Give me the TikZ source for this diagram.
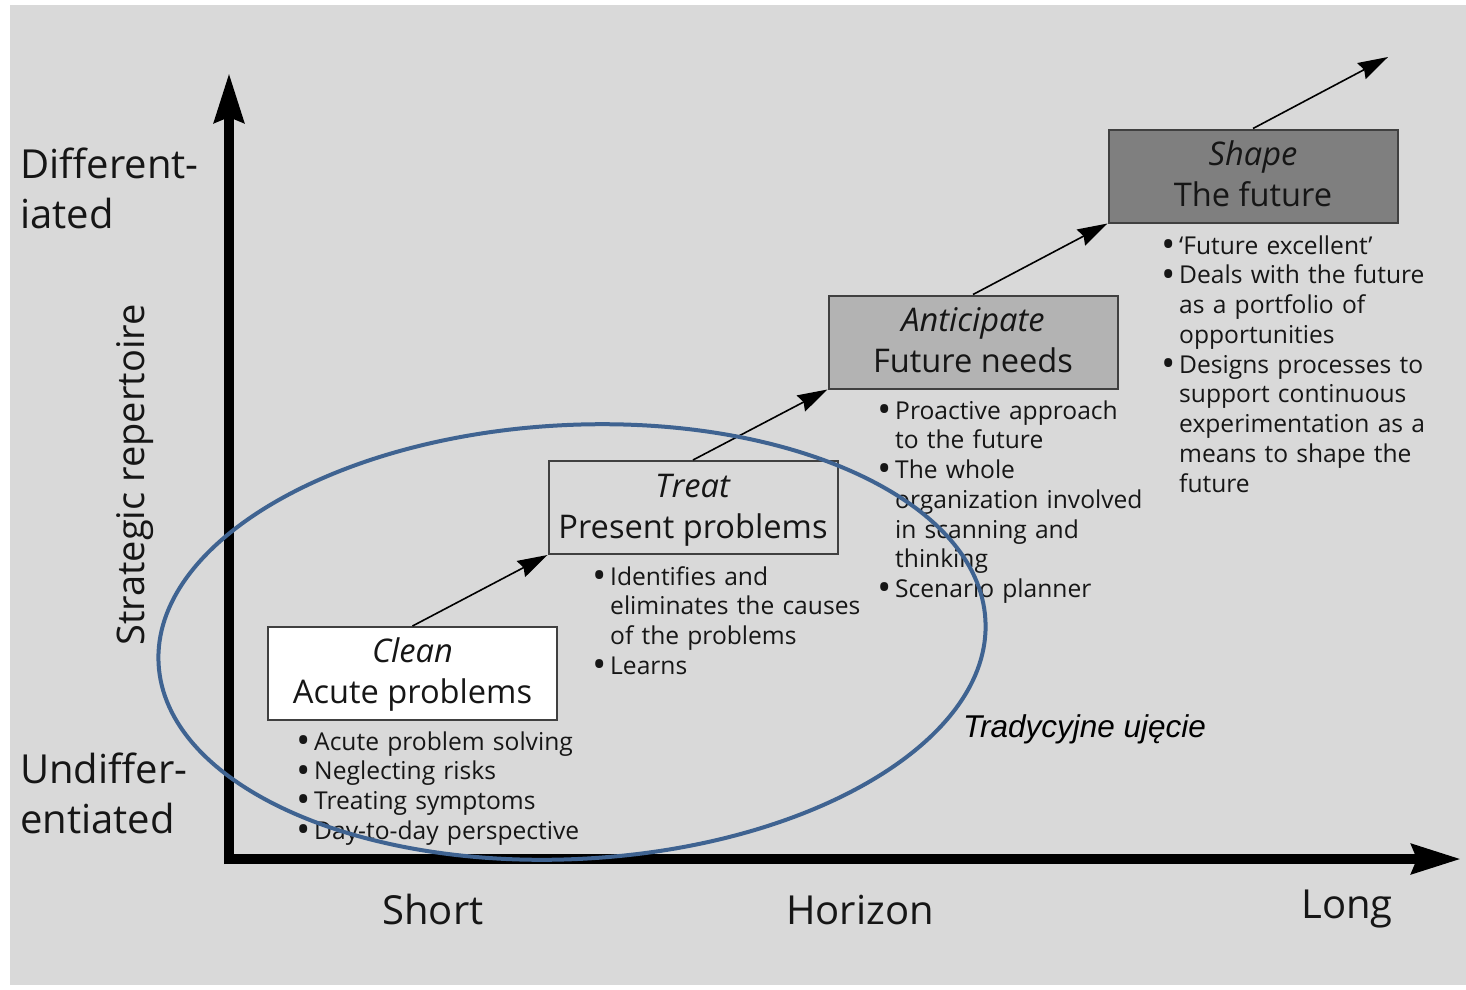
\documentclass[tikz,border=0pt]{standalone}
\usepackage{fontspec}
\setmainfont{Open Sans}
\newfontfamily\arialfont{Liberation Sans}
\usetikzlibrary{arrows.meta}
\definecolor{bg}{HTML}{D9D9D9}
\definecolor{boxline}{HTML}{404040}
\definecolor{midgray}{HTML}{B3B3B3}
\definecolor{darkgray}{HTML}{7F7F7F}
\definecolor{ellblue}{HTML}{3F6391}
\definecolor{txt}{HTML}{161616}
\newcommand{\blt}{\leavevmode\llap{\raisebox{-0.14em}{\scalebox{1.5}{\textbullet}}\hspace{4pt}}}
\tikzset{
  axis/.style={line width=10pt, -{Stealth[length=49pt,width=29pt,inset=5pt]}},
  stagebox/.style={draw=boxline, line width=2pt, minimum width=289pt, minimum height=93pt,
    inner sep=0pt, align=center, text=txt, font=\fontsize{32.6}{41}\selectfont},
  stagetext/.style={inner sep=0pt, align=center, text=txt, font=\fontsize{32.6}{41}\selectfont},
  stagearrow/.style={line width=1.6pt, -{Stealth[length=30pt,width=18pt,inset=3pt]}},
  bullets/.style={anchor=base west, inner sep=0pt, text width=320pt, align=left, text=txt,
    font=\fontsize{24.6}{29.75}\selectfont},
  axislabel/.style={inner sep=0pt, text=txt, font=\fontsize{40}{50}\selectfont},
}
\begin{document}
\begin{tikzpicture}[x=1pt,y=-1pt]
\useasboundingbox (0,0) rectangle (1466,989);
\fill[bg] (10,5) rectangle (1466,985);

% axes
\coordinate (origin) at (229,859);
\coordinate (ytip) at (229,73);
\coordinate (xtip) at (1461,859);
\draw[axis] (229,864) -- (ytip);
\draw[axis] (224,859) -- (xtip);

% axis labels
\node[axislabel, anchor=base west, text width=300pt, align=left] (diff) at (20,178) {Different-\\iated};
\node[axislabel, anchor=base west, text width=300pt, align=left] (undiff) at (20,783) {Undiffer-\\entiated};
\node[axislabel, rotate=90, font=\fontsize{38}{46}\selectfont] (strat) at (135,475) {Strategic repertoire};
\node[axislabel, anchor=base] (short) at (433,924) {Short};
\node[axislabel, anchor=base] (horizon) at (860,924) {Horizon};
\node[axislabel, anchor=base] (long) at (1347,918) {Long};

% stage boxes
\node[stagebox, fill=white] (clean) at (412.5,673.5) {};
\node[stagebox, fill=bg] (treat) at (693,507.5) {};
\node[stagebox, fill=midgray] (antic) at (973,342) {};
\node[stagebox, fill=darkgray] (shape) at (1253,176) {};
\node[stagetext] (cleant) at ([yshift=-1.5pt]clean.center) {\textit{Clean}\\Acute problems};
\node[stagetext] (treatt) at ([yshift=-2.5pt]treat.center) {\textit{Treat}\\Present problems};
\node[stagetext] (antict) at ([yshift=2pt]antic.center) {\textit{Anticipate}\\Future needs};
\node[stagetext] (shapet) at ([yshift=2pt]shape.center) {\textit{Shape}\\The future};
\coordinate (topend) at (1388,57);

\draw[stagearrow] (clean.north) -- (treat.south west);
\draw[stagearrow] (treat.north) -- (antic.south west);
\draw[stagearrow] (antic.north) -- (shape.south west);
\draw[stagearrow] (shape.north) -- (topend);

% bullet lists
\node[bullets] (cleanlist) at (314,750) {\blt Acute problem solving\\\blt Neglecting risks\\\blt Treating symptoms\\\blt Day-to-day perspective};
\node[bullets] (treatlist) at (610,585) {\blt Identifies and\\eliminates the causes\\of the problems\\\blt Learns};
\node[bullets] (anticlist) at (895,419) {\blt Proactive approach\\to the future\\\blt The whole\\organization involved\\in scanning and\\thinking\\\blt Scenario planner};
\node[bullets] (shapelist) at (1179,254) {\blt ‘Future excellent’\\\blt Deals with the future\\as a portfolio of\\opportunities\\\blt Designs processes to\\support continuous\\experimentation as a\\means to shape the\\future};

% ellipse
\draw[ellblue, line width=4pt, rotate around={3:(572,642)}] (572,642) ellipse [x radius=414, y radius=217];

\node[anchor=base west, inner sep=0pt, font=\arialfont\itshape\fontsize{31.5}{36}\selectfont] (trad) at (963,737) {Tradycyjne ujęcie};
\end{tikzpicture}
\end{document}
